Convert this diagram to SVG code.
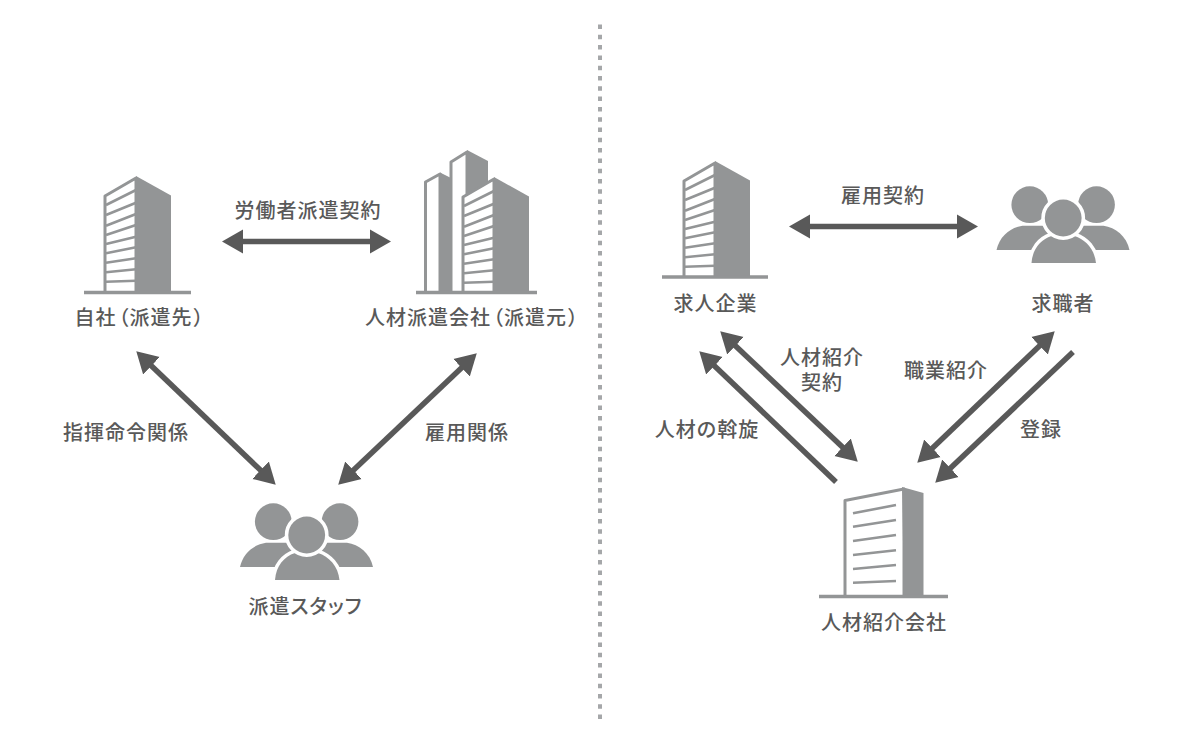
<svg xmlns="http://www.w3.org/2000/svg" xmlns:xlink="http://www.w3.org/1999/xlink" width="1200" height="750" viewBox="0 0 1200 750">
<style>
text{font-family:"Noto Sans CJK JP","Noto Sans",sans-serif;font-size:20px;font-weight:500;fill:#595959;text-anchor:middle;font-feature-settings:"palt";letter-spacing:1px}
.g{fill:#939596}
.o{fill:#fff;stroke:#939596;stroke-width:3;stroke-linejoin:round}
.s{stroke:#939596;stroke-width:2.6;fill:none}
.b{stroke:#939596;stroke-width:3.5;fill:none}
.a{stroke:#595959;stroke-width:5.5;fill:none}
.ar{marker-end:url(#h)}
.ad{marker-start:url(#h);marker-end:url(#h)}
.w{fill:#939596;stroke:#fff;stroke-width:7;paint-order:stroke;stroke-linejoin:round}
</style>
<defs>
<marker id="h" markerUnits="userSpaceOnUse" markerWidth="24" markerHeight="26" refX="2" refY="13" orient="auto-start-reverse"><path d="M0,1 L21,13 L0,25 Z" fill="#595959"/></marker>
<g id="tower">
<path class="o" d="M105,292 V196 L136,178 V292"/>
<path class="g" d="M136,176 L171,195.500 V292 H136 Z"/>
<path class="s" d="M106,205 L136,190 M106,215 L136,202.700 M106,225.700 L136,214 M106,235 L136,225 M106,244 L136,236.700 M106,253.300 L136,247.300 M106,262.700 L136,258.300 M106,272.300 L136,269.300 M106,281.700 L136,280.700"/>
</g>
<g id="people">
<circle class="g" cx="273.300" cy="521.700" r="18.400"/>
<circle class="g" cx="340" cy="521.700" r="18.400"/>
<path class="g" d="M240,567 C243,553 254,544.500 266,542.700 L298,542.700 L285,567 Z"/>
<path class="g" d="M373,567 C370,553 359,544.500 347,542.700 L315,542.700 L328,567 Z"/>
<path class="w" d="M275,580 C276,566 284,556.500 295,553 L318,553 C329,556.500 338,566 339.500,580 Z"/>
<circle class="w" cx="306.700" cy="535" r="18.400"/>
</g>
</defs>
<rect width="1200" height="750" fill="#fff"/>
<line x1="600" y1="24.500" x2="600" y2="720" stroke="#a5a7a9" stroke-width="4" stroke-dasharray="4.500 5.800"/>
<g id="connectors">
<line class="a ad" x1="241" y1="241.500" x2="372" y2="241.500"/>
<line class="a ad" x1="150" y1="364.400" x2="262" y2="471.600"/>
<line class="a ad" x1="463" y1="366.400" x2="352" y2="471.600"/>
<line class="a ad" x1="808" y1="226.500" x2="959" y2="226.500"/>
<line class="a ad" x1="734" y1="344.400" x2="844" y2="448.600"/>
<line class="a ar" x1="836" y1="482" x2="713" y2="364.400"/>
<line class="a ad" x1="931" y1="449.600" x2="1041" y2="344.400"/>
<line class="a ar" x1="1073" y1="352" x2="949" y2="469.600"/>
</g>
<g id="jisha">
<use xlink:href="#tower" href="#tower"/>
<line class="b" x1="84" y1="292.500" x2="191" y2="292.500"/>
<text x="139.500" y="325">自社<tspan dx="2">（</tspan>派遣先<tspan dx="1">）</tspan></text>
</g>
<g id="haken-moto">
<path class="o" d="M425.500,292 V182 L440,174 V292"/>
<path class="g" d="M440,172.500 L451,178 V292 H440 Z"/>
<path class="o" d="M451,292 V162 L467,152 V292"/>
<path class="g" d="M467,150 L488,161 V200 H467 Z"/>
<use xlink:href="#tower" href="#tower" x="358" y="1"/>
<line class="b" x1="416" y1="292.500" x2="537" y2="292.500"/>
<text x="472" y="325">人材派遣会社<tspan dx="2">（</tspan>派遣元<tspan dx="1">）</tspan></text>
</g>
<g id="haken-staff">
<use xlink:href="#people" href="#people"/>
<text x="305.500" y="614">派遣スタッフ</text>
</g>
<g id="kyujin">
<use xlink:href="#tower" href="#tower" x="579" y="-15"/>
<line class="b" x1="662" y1="277" x2="768" y2="277"/>
<text x="715.500" y="311">求人企業</text>
</g>
<g id="kyushoku">
<use xlink:href="#people" href="#people" x="756.500" y="-317"/>
<text x="1063" y="311">求職者</text>
</g>
<g id="shokai">
<path class="o" d="M845,596 V500.500 L904,489 V596"/>
<path class="g" d="M902,487 L923.500,493 V596 H904 Z"/>
<path class="s" d="M853,513.300 L896,505 M853,526.700 L896,520 M853,541 L896,535 M853,555 L896,550.300 M853,569 L896,565 M853,582.700 L896,581"/>
<line class="b" x1="819" y1="596.500" x2="948" y2="596.500"/>
<text x="884" y="630">人材紹介会社</text>
</g>
<g id="labels">
<text x="308" y="218">労働者派遣契約</text>
<text x="126" y="440">指揮命令関係</text>
<text x="467" y="440">雇用関係</text>
<text x="883" y="203">雇用契約</text>
<text x="822" y="365">人材紹介<tspan x="822" dy="25">契約</tspan></text>
<text x="707" y="437">人材の斡旋</text>
<text x="946" y="378">職業紹介</text>
<text x="1041" y="437">登録</text>
</g>
</svg>
